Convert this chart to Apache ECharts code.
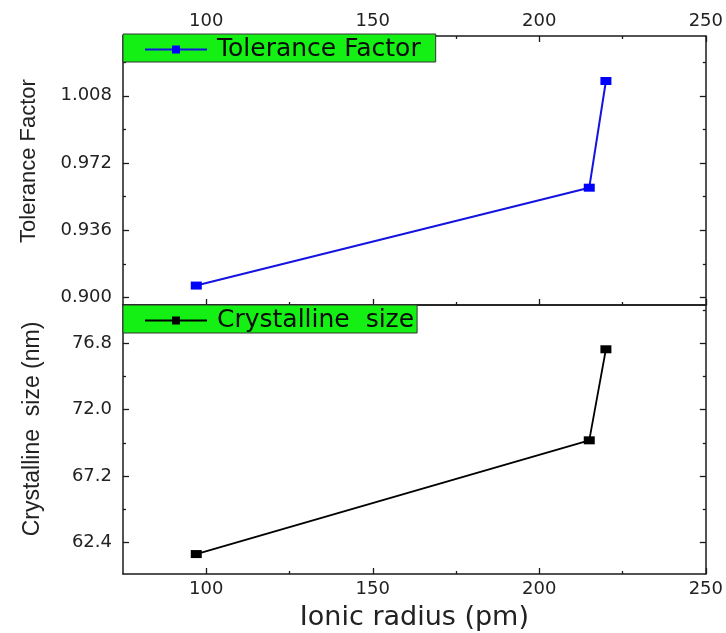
<!DOCTYPE html>
<html>
<head>
<meta charset="utf-8">
<script src="https://cdn.jsdelivr.net/npm/echarts@6/dist/echarts.min.js"></script>
<style>
  html, body { margin: 0; padding: 0; background: #fff; }
  #chart { width: 726px; height: 633px; }
</style>
</head>
<body>
<div id="chart"></div>
<script>
// ---- data ----
const ionicRadius = [97, 215, 220];
const toleranceFactor = [0.9064, 0.9588, 1.0159];
const crystallineSize = [61.56, 69.78, 76.36];

// ---- tick labels ----
const xMajorTicks = [100, 150, 200, 250];
const xMinorTicks = [125, 175, 225];
const tfMajorTicks = [0.900, 0.936, 0.972, 1.008];
const tfMinorTicks = [0.918, 0.954, 0.990, 1.026];
const csMajorTicks = [62.4, 67.2, 72.0, 76.8];
const csMinorTicks = [64.8, 69.6, 74.4, 79.2];

const seriesNames = ['Tolerance Factor', 'Crystalline  size'];
const axisNames = { x: 'Ionic radius (pm)', y1: 'Tolerance Factor', y2: 'Crystalline  size (nm)' };

const lineColor = '#1a1a1a';
const green = '#14f014';
const tickFont = { fontFamily: 'DejaVu Sans', fontSize: 18, color: '#222' };

function xAx(grid, pos, ticks, len, opts) {
  opts = opts || {};
  return {
    type: 'value', gridIndex: grid, position: pos, min: 75, max: 250,
    axisLine: { show: !!opts.line, onZero: false, lineStyle: { color: lineColor, width: 1.5 } },
    axisTick: { show: len > 0, inside: true, length: len, customValues: ticks, lineStyle: { color: lineColor, width: 1.3 } },
    axisLabel: opts.label ? Object.assign({ show: true, margin: 6, customValues: ticks,
      formatter: v => String(Math.round(v)) }, tickFont) : { show: false },
    splitLine: { show: false },
    name: opts.name || '', nameLocation: 'middle', nameGap: 30,
    nameTextStyle: { fontFamily: 'DejaVu Sans', fontSize: 27, color: '#222' }
  };
}
function yAx(grid, pos, min, max, ticks, len, opts) {
  opts = opts || {};
  return {
    type: 'value', gridIndex: grid, position: pos, min: min, max: max,
    axisLine: { show: !!opts.line, onZero: false, lineStyle: { color: lineColor, width: 1.5 } },
    axisTick: { show: len > 0, inside: true, length: len, customValues: ticks, lineStyle: { color: lineColor, width: 1.3 } },
    axisLabel: opts.label ? Object.assign({ show: true, margin: 11, customValues: ticks,
      formatter: v => v.toFixed(opts.digits) }, tickFont) : { show: false },
    splitLine: { show: false },
    name: opts.name || '', nameLocation: 'middle', nameGap: opts.nameGap || 80,
    nameTextStyle: { fontFamily: 'Liberation Sans', fontSize: opts.nameSize || 22, color: '#222',
      padding: [0, 0, 0, opts.nameShift || 0] }
  };
}

const tfMin = 0.896, tfMax = 1.040;
const csMin = 60.12, csMax = 79.56;

const xAxes = [
  // grid 0
  xAx(0, 'bottom', xMajorTicks, 6, { line: true }),
  xAx(0, 'top', xMajorTicks, 6, { line: true, label: true }),
  xAx(0, 'bottom', xMinorTicks, 3),
  xAx(0, 'top', xMinorTicks, 3),
  // grid 1
  xAx(1, 'bottom', xMajorTicks, 6, { line: true, label: true, name: axisNames.x }),
  xAx(1, 'top', xMajorTicks, 0, { line: true }),
  xAx(1, 'bottom', xMinorTicks, 3)
];
const yAxes = [
  yAx(0, 'left', tfMin, tfMax, tfMajorTicks, 6, { line: true, label: true, digits: 3, name: axisNames.y1,
    nameGap: 83, nameSize: 22, nameShift: 19 }),
  yAx(0, 'right', tfMin, tfMax, tfMajorTicks, 6, { line: true }),
  yAx(0, 'left', tfMin, tfMax, tfMinorTicks, 3),
  yAx(0, 'right', tfMin, tfMax, tfMinorTicks, 3),
  yAx(1, 'left', csMin, csMax, csMajorTicks, 6, { line: true, label: true, digits: 1, name: axisNames.y2,
    nameGap: 79, nameSize: 23, nameShift: 21 }),
  yAx(1, 'right', csMin, csMax, csMajorTicks, 6, { line: true }),
  yAx(1, 'left', csMin, csMax, csMinorTicks, 3),
  yAx(1, 'right', csMin, csMax, csMinorTicks, 3)
];

function legendBox(name, top, rightPad) {
  return {
    data: [name], left: 123, top: top, orient: 'horizontal',
    backgroundColor: green, borderColor: '#333', borderWidth: 1,
    padding: [3, rightPad, 0, 21], itemWidth: 62, itemHeight: 10,
    selectedMode: false,
    textStyle: { fontFamily: 'DejaVu Sans', fontSize: 25, lineHeight: 22, color: '#0a0a0a', padding: [0, 0, 0, 5] }
  };
}

const chart = echarts.init(document.getElementById('chart'), null, { renderer: 'canvas' });
chart.setOption({
  animation: false,
  backgroundColor: '#fff',
  grid: [
    { left: 123, right: 19, top: 36, height: 269 },
    { left: 123, right: 19, top: 305, height: 269 }
  ],
  legend: [legendBox(seriesNames[0], 34, 15), legendBox(seriesNames[1], 305, 3)],
  xAxis: xAxes,
  yAxis: yAxes,
  series: [
    {
      name: seriesNames[0], type: 'line', xAxisIndex: 0, yAxisIndex: 0,
      data: ionicRadius.map((x, i) => [x, toleranceFactor[i]]),
      symbol: 'rect', symbolSize: [11, 8],
      lineStyle: { color: '#1414e0', width: 2 },
      itemStyle: { color: '#0000ff' }
    },
    {
      name: seriesNames[1], type: 'line', xAxisIndex: 4, yAxisIndex: 4,
      data: ionicRadius.map((x, i) => [x, crystallineSize[i]]),
      symbol: 'rect', symbolSize: [11, 8],
      lineStyle: { color: '#000', width: 1.8 },
      itemStyle: { color: '#000' }
    }
  ]
});
</script>
</body>
</html>
